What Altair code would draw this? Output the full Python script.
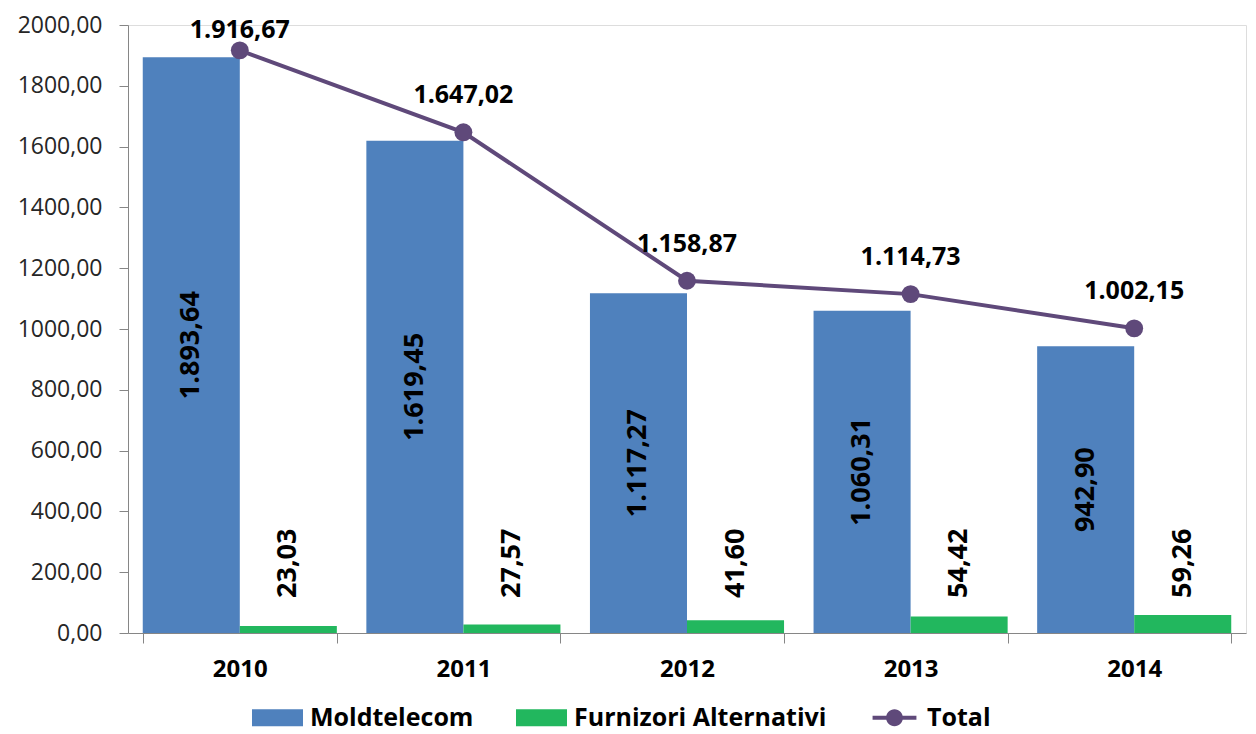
import altair as alt
import pandas as pd

# ---- data ----
years = ["2010", "2011", "2012", "2013", "2014"]
moldtelecom = [1893.64, 1619.45, 1117.27, 1060.31, 942.90]
furnizori = [23.03, 27.57, 41.60, 54.42, 59.26]
total = [1916.67, 1647.02, 1158.87, 1114.73, 1002.15]
series_names = ["Moldtelecom", "Furnizori Alternativi", "Total"]
series_colors = ["#4F81BD", "#22B75E", "#5F497A"]
y_ticks = [0, 200, 400, 600, 800, 1000, 1200, 1400, 1600, 1800, 2000]


def ro(v):
    s = f"{v:,.2f}"
    return s.replace(",", " ").replace(".", ",").replace(" ", ".")


bars = pd.DataFrame({
    "year": years * 2,
    "series": [series_names[0]] * len(years) + [series_names[1]] * len(years),
    "value": moldtelecom + furnizori,
})
bars["label"] = bars["value"].map(ro)

tot = pd.DataFrame({"year": years, "value": total})
tot["series"] = series_names[2]
tot["label"] = tot["value"].map(ro)

# invisible carrier rows for the legend
legend_df = pd.DataFrame({"series": series_names, "year": years[0], "value": 0.0})

FONT = "Open Sans"

x_enc = alt.X(
    "year:N",
    title=None,
    scale=alt.Scale(paddingInner=0.132, paddingOuter=0.066),
    axis=alt.Axis(
        labelAngle=0, tickBand="extent", tickSize=10, labelFont=FONT,
        labelFontSize=24, labelFontWeight="bold", labelColor="black",
        labelPadding=14, domainColor="#868686", tickColor="#868686",
    ),
)
xoff = alt.XOffset("series:N", scale=alt.Scale(domain=series_names[:2], paddingInner=0, paddingOuter=0))
y_scale = alt.Scale(domain=[0, 2000], nice=False, clamp=True)

rect_path = "M-1,-0.333H1V0.333H-1Z"
total_path = ("M-0.86,-0.08H0.86V0.08H-0.86Z "
              "M-0.33,0A0.33,0.33 0 1,1 0.33,0A0.33,0.33 0 1,1 -0.33,0Z")

color_scale = alt.Scale(domain=series_names, range=series_colors)

legend_props = dict(
    title=None, orient="none", legendX=124, legendY=667, direction="horizontal",
    symbolSize=2601, labelFont=FONT, labelFontSize=25, labelFontWeight="bold",
    labelColor="black", labelOffset=7, labelLimit=600, columnPadding=42, padding=0,
    symbolStrokeWidth=0, symbolOpacity=1,
)


def color_enc():
    return alt.Color("series:N", scale=color_scale, legend=alt.Legend(**legend_props))


bar = alt.Chart(bars).mark_bar().encode(
    x=x_enc,
    xOffset=xoff,
    y=alt.Y("value:Q", title=None, scale=y_scale,
            axis=alt.Axis(values=y_ticks, grid=False, tickSize=9, labelFont=FONT,
                          labelFontSize=23, labelColor="#262626", labelPadding=17,
                          domainColor="#868686", tickColor="#868686",
                          labelExpr="replace(format(datum.value, '.2f'), '.', ',')")),
    color=color_enc(),
)

mold_labels = alt.Chart(bars).transform_filter(
    alt.datum.series == series_names[0]
).transform_calculate(mid="datum.value / 2").mark_text(
    angle=270, align="center", baseline="middle", font=FONT, fontSize=27,
    fontWeight="bold", color="black",
).encode(
    x=alt.X("year:N", title=None),
    xOffset=xoff,
    y=alt.Y("mid:Q", title=None),
    text="label:N",
)

alt_labels = alt.Chart(bars).transform_filter(
    alt.datum.series == series_names[1]
).transform_calculate(base="0").mark_text(
    angle=270, align="left", baseline="middle", dx=35, font=FONT, fontSize=27,
    fontWeight="bold", color="black",
).encode(
    x=alt.X("year:N", title=None),
    xOffset=xoff,
    y=alt.Y("base:Q", title=None),
    text="label:N",
)

line = alt.Chart(tot).mark_line(
    strokeWidth=4, point=alt.OverlayMarkDef(size=320, filled=True, opacity=1)
).encode(
    x=alt.X("year:N", title=None),
    y=alt.Y("value:Q", title=None),
    color=color_enc(),
)

tot_labels = alt.Chart(tot).transform_calculate(pos="min(datum.value + 122, 1985)").mark_text(
    align="center", baseline="middle", font=FONT, fontSize=25, fontWeight="bold",
    color="black",
).encode(
    x=alt.X("year:N", title=None),
    y=alt.Y("pos:Q", title=None),
    text="label:N",
)

# invisible layer that carries the legend shapes (rectangles + line-with-dot)
legend_layer = alt.Chart(legend_df).mark_point(filled=True, opacity=0).encode(
    x=alt.X("year:N", title=None),
    y=alt.Y("value:Q", title=None),
    color=color_enc(),
    shape=alt.Shape(
        "series:N",
        scale=alt.Scale(domain=series_names, range=[rect_path, rect_path, total_path]),
        legend=alt.Legend(**legend_props),
    ),
)

chart = alt.layer(bar, mold_labels, alt_labels, line, tot_labels, legend_layer).properties(
    width=1118, height=608,
    autosize=alt.AutoSizeParams(type="none"),
    padding={"left": 120, "top": 17, "right": 2, "bottom": 101},
).configure_view(strokeWidth=0).configure(font=FONT)

chart.save("out.html", embed_options={"renderer": "svg", "actions": False})
